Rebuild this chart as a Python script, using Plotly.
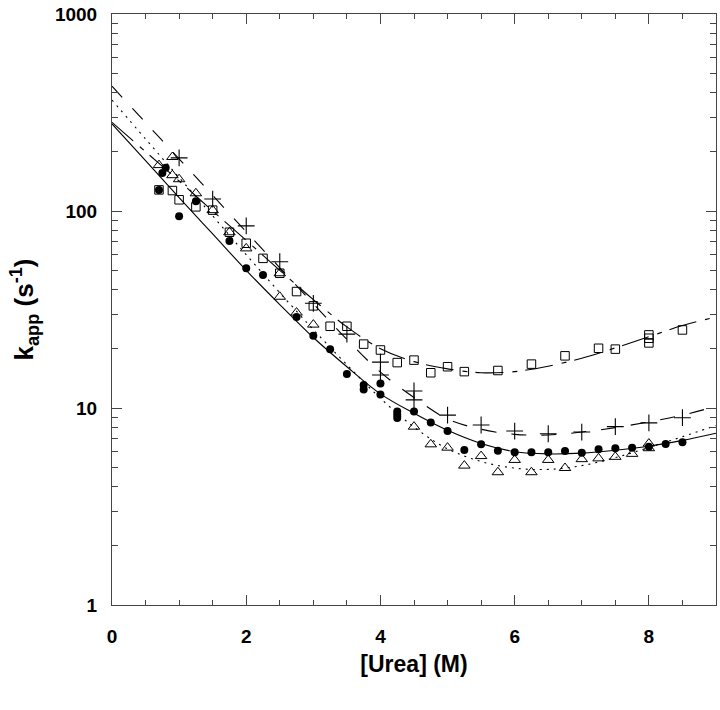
import plotly.graph_objects as go

# ---- data ----
# filled circles
circ_x = [0.7, 0.75, 0.8, 1.0, 1.25, 1.75, 2.0, 2.25, 2.75, 3.0, 3.25, 3.5, 3.75, 3.75, 4.0, 4.0,
          4.25, 4.25, 4.25, 4.5, 4.75, 5.0, 5.25, 5.5, 5.75, 6.0, 6.25, 6.5, 6.75, 7.0, 7.25, 7.5,
          7.75, 8.0, 8.25, 8.5]
circ_y = [128, 156, 166, 94, 112, 70.4, 51.2, 47.3, 29.0, 23.3, 19.9, 14.9, 13.1, 12.4, 13.3, 11.7,
          9.6, 9.25, 8.9, 9.6, 8.45, 7.64, 6.12, 6.54, 6.07, 5.96, 5.96, 5.96, 6.05, 5.92, 6.17, 6.25,
          6.28, 6.36, 6.56, 6.7]

# open triangles
tri_x = [0.7, 0.9, 0.9, 1.0, 1.25, 1.5, 1.75, 2.0, 2.5, 2.5, 2.75, 3.0, 4.5, 4.75, 5.0, 5.25, 5.5,
         5.75, 6.0, 6.25, 6.5, 6.75, 7.0, 7.25, 7.5, 7.75, 8.0, 8.0]
tri_y = [171, 188, 152, 145, 123, 101, 78, 64.6, 48.3, 36.7, 30.5, 26.5, 8.04, 6.54, 6.29, 5.1, 5.7,
         4.72, 5.45, 4.72, 5.45, 4.96, 5.5, 5.55, 5.65, 5.85, 6.25, 6.6]

# plus signs
plus_x = [1.0, 1.5, 2.0, 2.5, 3.0, 3.5, 4.0, 4.0, 4.5, 4.5, 5.0, 5.5, 6.0, 6.5, 7.0, 7.5, 8.0, 8.5]
plus_y = [186, 115, 84, 55.3, 34.0, 23.7, 17.1, 14.7, 12.2, 11.0, 9.2, 8.2, 7.64, 7.4, 7.55, 8.04,
          8.4, 8.93]

# open squares
sq_x = [0.7, 0.9, 1.0, 1.25, 1.5, 1.75, 2.0, 2.25, 2.5, 2.75, 3.0, 3.25, 3.5, 3.75, 4.0, 4.25, 4.5,
        4.75, 5.0, 5.25, 5.75, 6.25, 6.75, 7.25, 7.5, 8.0, 8.0, 8.0, 8.5]
sq_y = [128, 127, 114, 105, 101, 78, 68.6, 57.5, 48.3, 39.0, 33.0, 26.0, 26.0, 21.1, 19.7, 17.0, 17.5,
        15.1, 16.2, 15.3, 15.5, 16.7, 18.4, 20.1, 19.9, 23.5, 22.6, 21.4, 24.9]

# fitted curves, read at 0.5 M steps
fit_x = [0, 0.5, 1, 1.5, 2, 2.5, 3, 3.5, 4, 4.5, 5, 5.5, 6, 6.5, 7, 7.5, 8, 8.5, 9]
fit_circ = [277, 180, 117, 76.5, 50, 33.5, 22.8, 16.2, 11.8, 9.4, 7.7, 6.6, 6.0, 5.85, 5.9, 6.1,
            6.4, 6.85, 7.45]
fit_tri = [366, 232, 148, 94.5, 60, 38.5, 25.0, 16.6, 11.2, 8.0, 6.2, 5.35, 4.95, 4.88, 5.1, 5.6,
           6.3, 7.15, 8.15]
fit_plus = [430, 281, 184, 120, 78.5, 51.5, 33.8, 22.3, 15.2, 11.3, 8.8, 7.8, 7.35, 7.3, 7.55,
            7.95, 8.5, 9.2, 10.2]
fit_sq = [282, 200, 142, 100, 71, 50, 35.5, 25.8, 20.0, 17.2, 15.8, 15.1, 15.3, 16.3, 17.9, 20.2,
          23.0, 26.2, 29.0]

x_tickvals = [0, 2, 4, 6, 8]
y_tickvals = [1, 10, 100, 1000]
y_ticktext = ["1", "10", "100", "1000"]
x_title = "[Urea] (M)"
y_title = "k<sub>app</sub> (s<sup>-1</sup>)"

# ---- figure ----
fig = go.Figure()
line_w = 1.1
fig.add_trace(go.Scatter(x=fit_x, y=fit_circ, mode="lines", line=dict(color="black", width=line_w, dash="solid", shape="spline"), showlegend=False))
fig.add_trace(go.Scatter(x=fit_x, y=fit_tri, mode="lines", line=dict(color="black", width=line_w, dash="2px,5px", shape="spline"), showlegend=False))
fig.add_trace(go.Scatter(x=fit_x, y=fit_plus, mode="lines", line=dict(color="black", width=line_w, dash="15px,15px", shape="spline"), showlegend=False))
fig.add_trace(go.Scatter(x=fit_x, y=fit_sq, mode="lines", line=dict(color="black", width=line_w, dash="28px,9px,5px,8px", shape="spline"), showlegend=False))

fig.add_trace(go.Scatter(x=sq_x, y=sq_y, mode="markers", marker=dict(symbol="square-open", size=8.5, color="black", line=dict(width=1)), showlegend=False))
fig.add_trace(go.Scatter(x=tri_x, y=tri_y, mode="markers", marker=dict(symbol="triangle-up-open", size=10, color="black", line=dict(width=1)), showlegend=False))
fig.add_trace(go.Scatter(x=plus_x, y=plus_y, mode="markers", marker=dict(symbol="cross-thin-open", size=12, color="black", line=dict(width=1.1)), showlegend=False))
fig.add_trace(go.Scatter(x=circ_x, y=circ_y, mode="markers", marker=dict(symbol="circle", size=8, color="black"), showlegend=False))

axis_font = dict(family="Liberation Sans, Arial, sans-serif", size=19, color="black")
fig.update_layout(
    width=720, height=710,
    margin=dict(l=112, r=4, t=14, b=105),
    paper_bgcolor="white", plot_bgcolor="white",
    font=axis_font,
    xaxis=dict(
        range=[0, 9], tickmode="array", tickvals=x_tickvals,
        ticktext=["<b>%d</b>" % v for v in x_tickvals],
        ticks="inside", ticklen=10, tickwidth=1, tickcolor="#444",
        showline=True, linecolor="#444", linewidth=1, mirror="allticks",
        showgrid=False, zeroline=False, ticklabelstandoff=14, automargin=False,
        ticklabeloverflow="allow",
        minor=dict(dtick=0.5, ticks="inside", ticklen=5, tickcolor="#444", showgrid=False),
        title=dict(text="<b>" + x_title + "</b>", font=dict(size=23), standoff=10),
    ),
    yaxis=dict(
        type="log", range=[0, 3], tickmode="array", tickvals=y_tickvals,
        ticktext=["<b>%s</b>" % t for t in y_ticktext],
        ticks="inside", ticklen=10, tickwidth=1, tickcolor="#444",
        showline=True, linecolor="#444", linewidth=1, mirror="allticks",
        showgrid=False, zeroline=False, ticklabelstandoff=10, automargin=False,
        ticklabeloverflow="allow",
        minor=dict(tickvals=[m * d for d in (1, 10, 100) for m in range(2, 10)], ticks="inside",
                   ticklen=6, tickcolor="#444", showgrid=False),
        title=dict(text="<b>" + y_title + "</b>", font=dict(size=26), standoff=13),
    ),
)

# remove the default page margin so the 720x710 figure fills the window exactly
fig.write_html(
    "out.html",
    config={"displayModeBar": False},
    post_script="document.body.style.margin='0';document.documentElement.style.overflow='hidden';",
)
